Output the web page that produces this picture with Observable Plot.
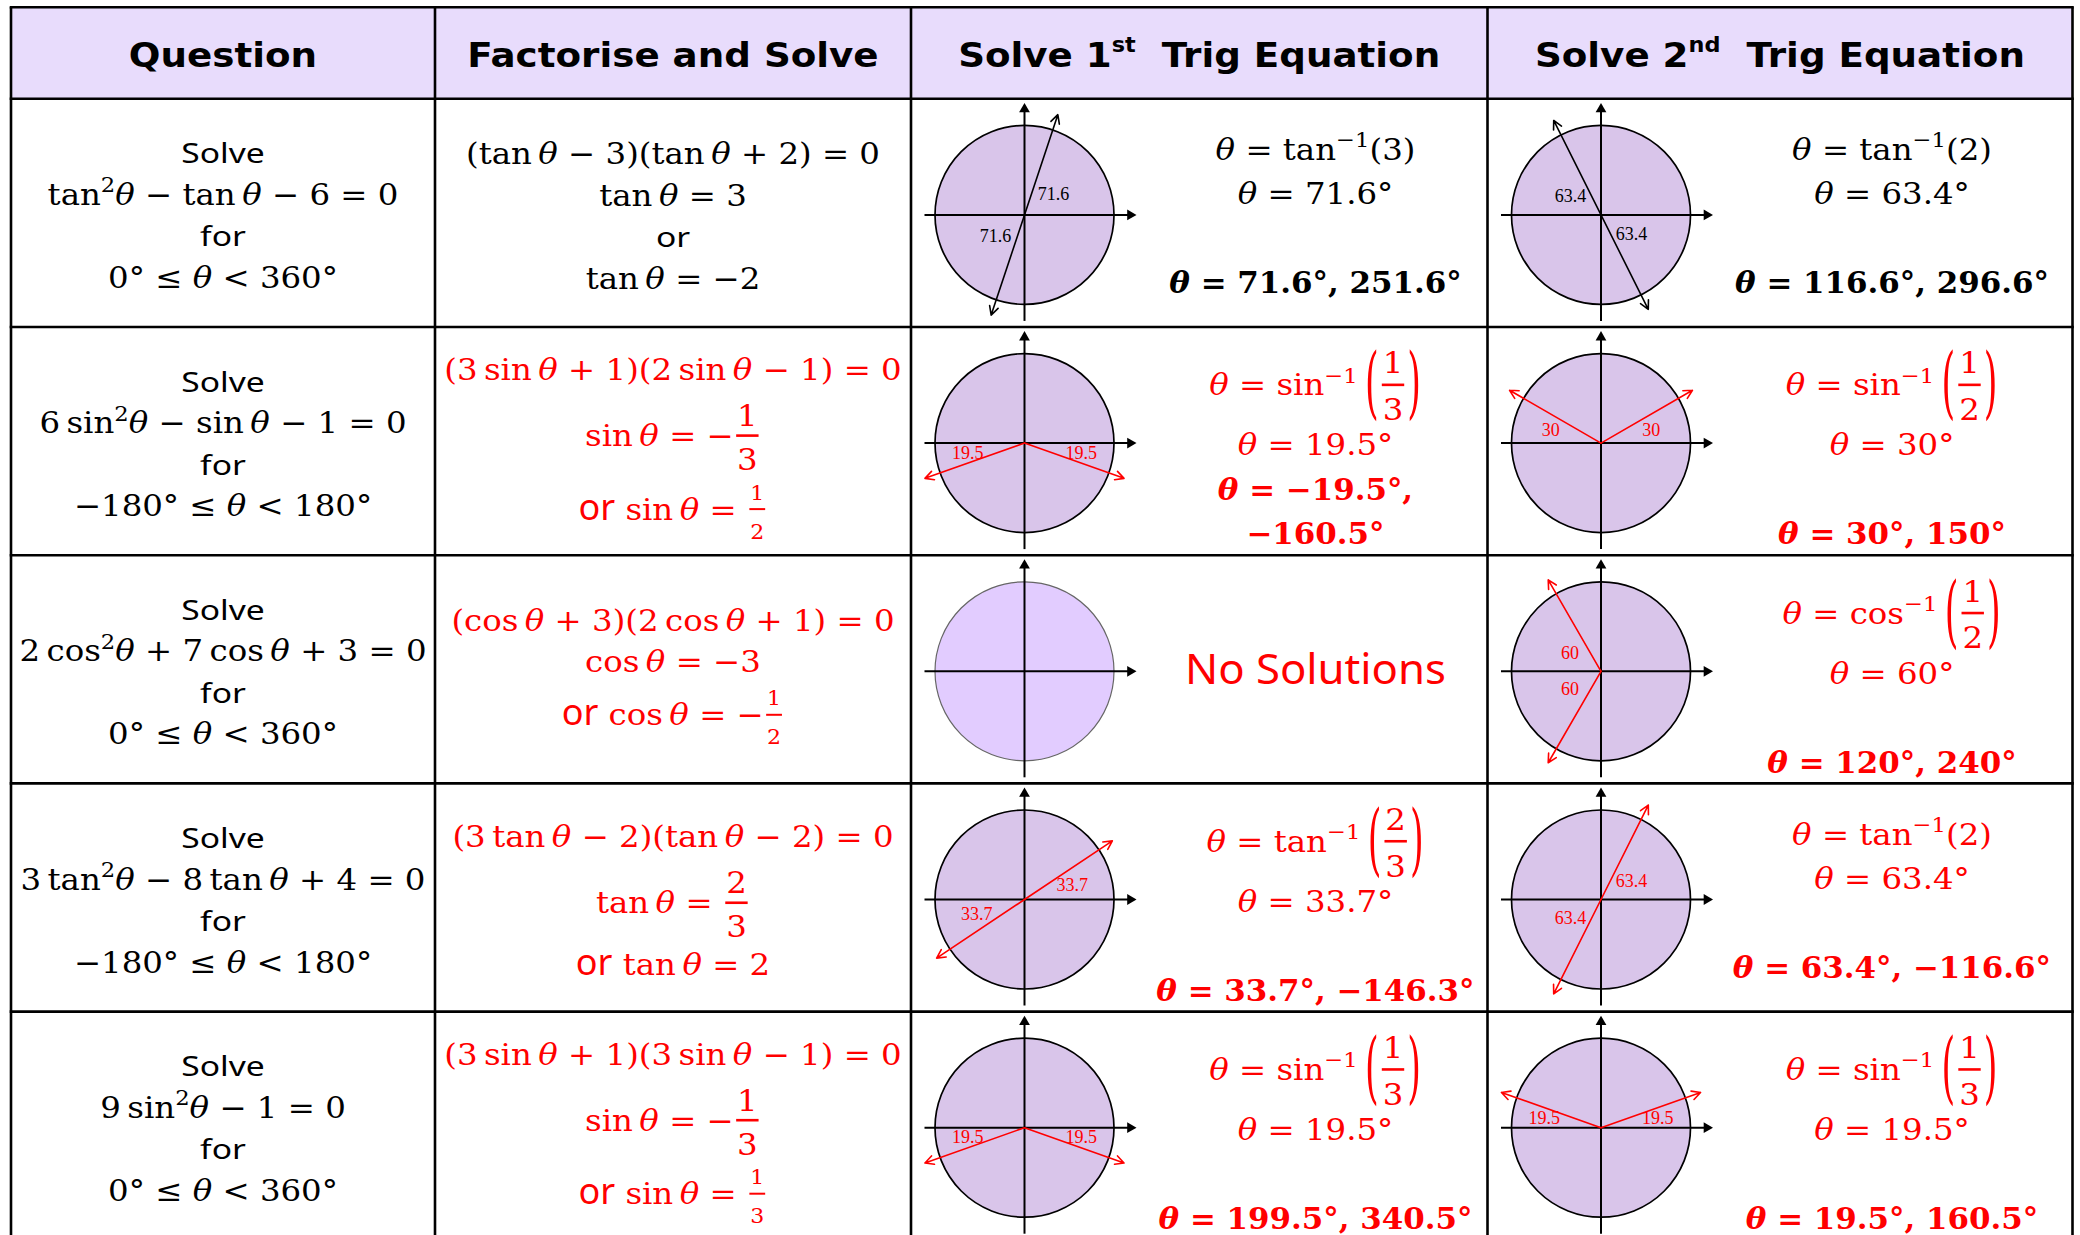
<!DOCTYPE html>
<html>
<head>
<meta charset="utf-8">
<script src="https://cdn.jsdelivr.net/npm/d3@7"></script>
<script src="https://cdn.jsdelivr.net/npm/@observablehq/plot@0.6"></script>
<style>
  html, body { margin: 0; padding: 0; background: #ffffff; }
  #chart svg { display: block; }
</style>
</head>
<body>
<div id="chart"></div>
<script>
// ================= DATA =================
const headers = ["Question", "Factorise and Solve", "Solve 1^{st}  Trig Equation", "Solve 2^{nd}  Trig Equation"];

const equations = [
  "tan²θ − tan θ − 6 = 0",
  "6 sin²θ − sin θ − 1 = 0",
  "2 cos²θ + 7 cos θ + 3 = 0",
  "3 tan²θ − 8 tan θ + 4 = 0",
  "9 sin²θ − 1 = 0"
];
const intervals = ["0° ≤ θ < 360°", "−180° ≤ θ < 180°", "0° ≤ θ < 360°", "−180° ≤ θ < 180°", "0° ≤ θ < 360°"];

const factorised = [
  "(tan θ − 3)(tan θ + 2) = 0",
  "(3 sin θ + 1)(2 sin θ − 1) = 0",
  "(cos θ + 3)(2 cos θ + 1) = 0",
  "(3 tan θ − 2)(tan θ − 2) = 0",
  "(3 sin θ + 1)(3 sin θ − 1) = 0"
];
// [F:a/b] = full-size fraction, [f:a/b] = small fraction, [P:a/b] = fraction in tall brackets
const roots = [
  ["tan θ = 3", "or", "tan θ = −2"],
  ["sin θ = −[F:1/3]", "or sin θ = [f:1/2]"],
  ["cos θ = −3", "or cos θ = −[f:1/2]"],
  ["tan θ = [F:2/3]", "or tan θ = 2"],
  ["sin θ = −[F:1/3]", "or sin θ = [f:1/3]"]
];

const firstWork = [
  ["θ = tan⁻¹(3)", "θ = 71.6°"],
  ["θ = sin⁻¹ [P:1/3]", "θ = 19.5°"],
  [],
  ["θ = tan⁻¹ [P:2/3]", "θ = 33.7°"],
  ["θ = sin⁻¹ [P:1/3]", "θ = 19.5°"]
];
const firstAnswers = [
  ["θ = 71.6°, 251.6°"],
  ["θ = −19.5°,", "−160.5°"],
  ["No Solutions"],
  ["θ = 33.7°, −146.3°"],
  ["θ = 199.5°, 340.5°"]
];
const firstRefAngles = [71.6, 19.5, null, 33.7, 19.5];
const firstRayAngles = [[71.6, 251.6], [-19.5, -160.5], [], [33.7, -146.3], [199.5, 340.5]];

const secondWork = [
  ["θ = tan⁻¹(2)", "θ = 63.4°"],
  ["θ = sin⁻¹ [P:1/2]", "θ = 30°"],
  ["θ = cos⁻¹ [P:1/2]", "θ = 60°"],
  ["θ = tan⁻¹(2)", "θ = 63.4°"],
  ["θ = sin⁻¹ [P:1/3]", "θ = 19.5°"]
];
const secondAnswers = [
  ["θ = 116.6°, 296.6°"],
  ["θ = 30°, 150°"],
  ["θ = 120°, 240°"],
  ["θ = 63.4°, −116.6°"],
  ["θ = 19.5°, 160.5°"]
];
const secondRefAngles = [63.4, 30, 60, 63.4, 19.5];
const secondRayAngles = [[116.6, 296.6], [30, 150], [120, 240], [63.4, -116.6], [19.5, 160.5]];

// ================= LAYOUT / STYLE =================
const W = 2080, H = 1235;
const colEdges = [10.5, 434.5, 910.5, 1487, 2072];
const tableTop = 6.7, headBottom = 98.3, rowH = 228.2, nRows = 5;
const rowTop = i => headBottom + i * rowH;
const rowMid = i => rowTop(i) + rowH / 2;
const colMid = c => (colEdges[c] + colEdges[c + 1]) / 2;
const rowInk = ["#000000", "#ff0000", "#ff0000", "#ff0000", "#ff0000"];
const headerFill = "#e8dcfc";
const circleFill = "#d9c5ea", circleFillEmpty = "#e2ccff";

const SERIF = "DejaVu Serif";
const STYLE = {
  head:   {family: "DejaVu Sans", weight: "bold", style: "normal", sx: 1.08},
  sans:   {family: "Noto Sans", weight: "normal", style: "normal", sx: 1.2},
  or:     {family: "Noto Sans", weight: "normal", style: "normal", sx: 1.0},
  big:    {family: "Noto Sans", weight: "normal", style: "normal", sx: 1.04},
  math:   {family: SERIF, weight: "normal", style: "normal", sx: 1.08},
  mathI:  {family: SERIF, weight: "normal", style: "italic", sx: 1.08},
  mathB:  {family: SERIF, weight: "bold", style: "normal", sx: 1.03},
  mathBI: {family: SERIF, weight: "bold", style: "italic", sx: 1.03},
  paren:  {family: SERIF, weight: "normal", style: "normal", sx: 0.45},
  label:  {family: "Liberation Serif", weight: "normal", style: "normal", sx: 1.0}
};
const SIZE = {head: 34.5, sans: 28, math: 30, mathB: 30, big: 42, label: 18};

const ctx = document.createElement("canvas").getContext("2d");
function textW(t, st, s) {
  const S = STYLE[st];
  ctx.font = `${S.style} ${S.weight} ${s}px "${S.family}"`;
  return ctx.measureText(t).width * S.sx;
}

const mathSpace = s => s.replace(/(?<![=+−<≤,(]) (?![=+−<≤])/g, "\u2009");
const SUP = {"⁻": "−", "¹": "1", "²": "2"};

function parseLine(str, kind) {
  const toks = [];
  const re = /\[([PFf]):([^\/\]]+)\/([^\]]+)\]|\^\{([^}]*)\}/g;
  let last = 0, m;
  const isMath = kind === "math" || kind === "mathB";
  const pushText = (s, atStart) => {
    if (!s) return;
    if (isMath) {
      let rest = s;
      if (atStart && rest.startsWith("or ")) {
        toks.push({t: "or", st: "or", scale: 1.2});
        toks.push({t: " ", st: "math"});
        rest = rest.slice(3);
      }
      rest.split(/(θ|[⁻¹²]+)/).forEach(p => {
        if (!p) return;
        if (p === "θ") toks.push({t: p, st: kind === "mathB" ? "mathBI" : "mathI"});
        else if (/^[⁻¹²]+$/.test(p)) toks.push({t: [...p].map(ch => SUP[ch]).join(""), st: kind, scale: 0.7, rise: 0.42});
        else toks.push({t: mathSpace(p), st: kind});
      });
    } else toks.push({t: s, st: kind});
  };
  while ((m = re.exec(str))) {
    pushText(str.slice(last, m.index), last === 0);
    if (m[1]) toks.push({frac: m[1], num: m[2], den: m[3], st: kind === "mathB" ? "mathB" : "math"});
    else toks.push({t: m[4], st: kind, scale: 0.6, rise: 0.42});
    last = re.lastIndex;
  }
  pushText(str.slice(last), last === 0);
  return toks;
}

const pieces = [], bars = [];

function measureTok(tk, size) {
  if (!tk.frac) {
    const s = size * (tk.scale || 1);
    const w = textW(tk.t, tk.st, s);
    return {w, emit: (x, b, c) => pieces.push({x, y: b - (tk.rise || 0) * size, text: tk.t, size: s, st: tk.st, fill: c})};
  }
  const m = tk.frac;
  const fs = m === "f" ? 0.68 * size : size;
  const wn = textW(tk.num, tk.st, fs), wd = textW(tk.den, tk.st, fs);
  const fw = Math.max(wn, wd) + 0.16 * size;
  const numOff = m === "P" ? -0.73 : -0.67;
  const denOff = m === "P" ? 0.83 : m === "F" ? 0.8 : 0.63;
  const barOff = -0.35;
  const ps = 2.6 * size;
  const pw = m === "P" ? textW("(", "paren", ps) : 0;
  const gap = m === "P" ? 0.05 * size : 0;
  const w = fw + 2 * pw + 2 * gap + 0.06 * size;
  return {w, emit: (x, b, c) => {
    let x0 = x + 0.03 * size;
    const barY = b + barOff * size;
    if (m === "P") {
      pieces.push({x: x0, y: barY + 0.314 * ps, text: "(", size: ps, st: "paren", fill: c});
      x0 += pw + gap;
    }
    pieces.push({x: x0 + (fw - wn) / 2, y: b + numOff * size, text: tk.num, size: fs, st: tk.st, fill: c});
    pieces.push({x: x0 + (fw - wd) / 2, y: b + denOff * size, text: tk.den, size: fs, st: tk.st, fill: c});
    bars.push({x1: x0 + 0.05 * size, x2: x0 + fw - 0.05 * size, y: barY, w: m === "f" ? 2 : 2.6, fill: c});
    if (m === "P") pieces.push({x: x0 + fw + gap, y: barY + 0.314 * ps, text: ")", size: ps, st: "paren", fill: c});
  }};
}

function emitLine(str, kind, cx, baseline, color) {
  const size = SIZE[kind];
  const items = parseLine(str, kind).map(tk => measureTok(tk, size));
  const total = d3.sum(items, d => d.w);
  let x = cx - total / 2;
  for (const it of items) { it.emit(x, baseline, color); x += it.w; }
}

function lineType(str) {
  return /\[P:/.test(str) ? "P" : /\[F:/.test(str) ? "F" : /\[f:/.test(str) ? "f" : "n";
}
const EXT12 = {n: [29.5, 12], F: [54, 32.5], f: [41, 22]};
const EXT34 = {n: [30, 14.5], P: [60, 30]};

function flowBlock(lines, cx, cy, ext, offset, color) {
  const tps = lines.map(l => ext[lineType(l.str)]);
  let total = tps[0][0] + tps[tps.length - 1][1];
  for (let i = 1; i < tps.length; i++) total += tps[i - 1][1] + tps[i][0];
  let y = cy - total / 2 + offset + tps[0][0];
  lines.forEach((l, i) => {
    if (i > 0) y += tps[i - 1][1] + tps[i][0];
    emitLine(l.str, l.kind, cx, y, color);
  });
}

// ---- header ----
headers.forEach((h, c) => emitLine(h, "head", colMid(c), 66, "#000000"));

// ---- circles, axes, rays, labels ----
const R = 89.5;
const circles = [], axes = [], heads = [], rays = [];

for (let i = 0; i < nRows; i++) {
  // column 1: the question
  flowBlock([
    {str: "Solve", kind: "sans"},
    {str: equations[i], kind: "math"},
    {str: "for", kind: "sans"},
    {str: intervals[i], kind: "math"}
  ], colMid(0), rowMid(i), EXT12, 4, "#000000");

  // column 2: factorise and solve
  flowBlock([{str: factorised[i], kind: "math"}]
    .concat(roots[i].map(s => ({str: s, kind: s === "or" ? "sans" : "math"}))),
    colMid(1), rowMid(i), EXT12, 5, rowInk[i]);

  // columns 3 and 4
  [[firstWork, firstAnswers, firstRefAngles, firstRayAngles],
   [secondWork, secondAnswers, secondRefAngles, secondRayAngles]].forEach(([work, ans, refs, angs], k) => {
    const col = 2 + k;
    const tx = colEdges[col] + 404.5;
    const ink = rowInk[i];
    if (work[i].length === 0) {
      emitLine(ans[i][0], "big", tx, rowMid(i) + 0.36 * SIZE.big, ink);
    } else {
      const lines = work[i].map(s => ({str: s, kind: "math"}))
        .concat(ans[i].length === 1 ? [{str: "", kind: "math"}] : [])
        .concat(ans[i].map(s => ({str: s, kind: "mathB"})));
      flowBlock(lines, tx, rowMid(i), EXT34, 6, ink);
    }
    const cx = colEdges[col] + 113.5, cy = rowMid(i) + 2;
    const empty = angs[i].length === 0;
    circles.push({x: cx, y: cy, fill: empty ? circleFillEmpty : circleFill, stroke: empty ? "#666666" : "#000000", sw: empty ? 1.2 : 1.7});
    axes.push({x1: cx - 100, y1: cy, x2: cx + 106, y2: cy});
    heads.push({x: cx + 105.8, y: cy, rot: 90});
    axes.push({x1: cx, y1: cy + 106, x2: cx, y2: cy - 106});
    heads.push({x: cx, y: cy - 105.8, rot: 0});
    angs[i].forEach(a => {
      const rad = a * Math.PI / 180;
      const L = 1.18 * R;
      rays.push({x1: cx, y1: cy, x2: cx + L * Math.cos(rad), y2: cy - L * Math.sin(rad), stroke: ink});
      // label on the bisector between the ray and the horizontal axis
      const ref = refs[i];
      const an = ((a % 360) + 360) % 360;
      let bis;
      if (Math.cos(rad) >= 0) { const d = an > 180 ? an - 360 : an; bis = d / 2; }
      else bis = 180 + (an - 180) / 2;
      const dist = R * (0.4 + 0.006 * Math.max(0, 60 - ref));
      const br = bis * Math.PI / 180;
      emitLine(String(ref), "label", cx + dist * Math.cos(br), cy - dist * Math.sin(br) + 0.33 * SIZE.label, ink);
    });
  });
}

// ---- table grid ----
const grid = [];
colEdges.forEach(x => grid.push({x1: x, y1: tableTop, x2: x, y2: H + 5}));
[tableTop, headBottom].concat(d3.range(1, nRows).map(rowTop)).forEach(y =>
  grid.push({x1: colEdges[0] - 1.3, y1: y, x2: colEdges[4] + 1.3, y2: y}));

// ================= PLOT =================
const textMarks = Object.keys(STYLE).map(st => Plot.text(pieces.filter(p => p.st === st), {
  x: "x", y: "y", text: "text", fontSize: "size", fill: "fill",
  textAnchor: "start", lineAnchor: "bottom",
  fontFamily: STYLE[st].family, fontWeight: STYLE[st].weight, fontStyle: STYLE[st].style,
  ariaDescription: `txt|${STYLE[st].sx}`
}));

const svg = Plot.plot({
  width: W, height: H, margin: 0,
  x: {domain: [0, W], range: [0, W], axis: null},
  y: {domain: [0, H], range: [0, H], axis: null},
  color: {type: "identity"},
  style: {background: "#ffffff", overflow: "visible"},
  marks: [
    Plot.rect([{x1: colEdges[0], x2: colEdges[4], y1: tableTop, y2: headBottom}], {x1: "x1", x2: "x2", y1: "y1", y2: "y2", fill: headerFill}),
    Plot.dot(circles, {x: "x", y: "y", r: R, fill: "fill", stroke: "stroke", strokeWidth: "sw"}),
    Plot.link(axes, {x1: "x1", y1: "y1", x2: "x2", y2: "y2", stroke: "#000000", strokeWidth: 2}),
    Plot.dot(heads, {x: "x", y: "y", r: 4, symbol: "triangle", rotate: "rot", fill: "#000000", stroke: "none"}),
    Plot.arrow(rays, {x1: "x1", y1: "y1", x2: "x2", y2: "y2", stroke: "stroke", strokeWidth: 1.6, headLength: 9, headAngle: 55}),
    Plot.link(grid, {x1: "x1", y1: "y1", x2: "x2", y2: "y2", stroke: "#000000", strokeWidth: 2.6}),
    Plot.link(bars, {x1: "x1", x2: "x2", y1: "y", y2: "y", stroke: "fill", strokeWidth: "w"}),
    ...textMarks
  ]
});

// horizontal stretch of the lettering, as in the original
svg.querySelectorAll("g").forEach(g => {
  const lab = g.getAttribute("aria-description") || "";
  if (!lab.startsWith("txt|")) return;
  const sx = +lab.split("|")[1];
  g.querySelectorAll("text").forEach(t => {
    const tr = t.getAttribute("transform");
    if (tr) t.setAttribute("transform", `${tr} scale(${sx},1)`);
    else {
      const x = +t.getAttribute("x") || 0, y = +t.getAttribute("y") || 0;
      t.removeAttribute("x"); t.removeAttribute("y");
      t.setAttribute("transform", `translate(${x},${y}) scale(${sx},1)`);
    }
  });
});

document.getElementById("chart").appendChild(svg);
</script>
</body>
</html>
